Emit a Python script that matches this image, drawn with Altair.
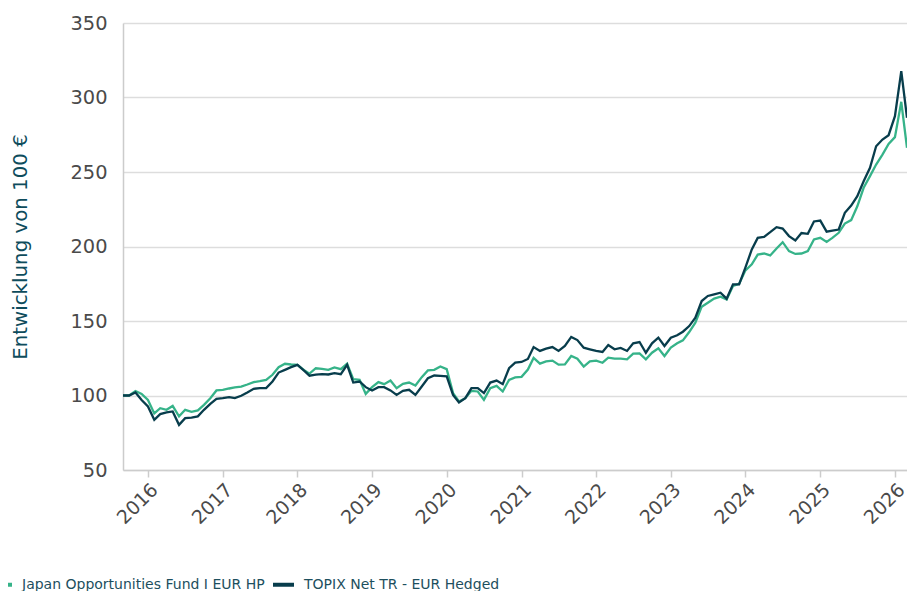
import altair as alt
import pandas as pd

series_names = ["Japan Opportunities Fund I EUR HP", "TOPIX Net TR - EUR Hedged"]
colors = ["#36b389", "#083d4c"]

start_month = "2015-09-01"

fund = [100, 100, 103, 101, 97, 88, 91.5, 90.4, 93, 86, 90.4, 89, 90, 93.7, 98.2, 103.4,
        103.8, 104.7, 105.4, 106, 107.4, 109, 109.6, 110.5, 113.9, 119, 121.3, 120.8, 120.6, 117.2,
        114.7, 118.3, 117.9, 117.2, 118.8, 117.7, 121.3, 111, 110.5, 101.1, 105.6, 109, 107.6, 110,
        104.9, 107.8, 108.7, 106.7, 112.3, 116.8, 117.2, 119.5, 117.7, 101.6, 96, 98.2, 103.1, 102.7,
        97.1, 104.9, 106.5, 102.7, 110.5, 112.1, 112.5, 117.4, 125.2, 121.4, 122.9, 123.4, 120.7,
        120.9, 126.5, 124.7, 119.4, 122.9, 123.4, 122, 125.4, 124.7, 124.7, 124.3, 128.1, 128.3,
        124.3, 128.7, 131.7, 126.5, 132.1, 135, 137, 142.6, 148.9, 159.6, 162.3, 165, 166.3, 164.5,
        173.5, 175, 184, 188, 194.6, 195.3, 194, 198.7, 202.9, 196.9, 195, 195.3, 196.9, 204.7,
        205.8, 203.1, 205.8, 209.2, 215.4, 217.7, 227, 239.4, 247.2, 255, 261.7, 268.9, 273.4,
        297.1, 266.2]

topix = [100, 100, 102, 97, 92.6, 83.7, 87.5, 88.6, 89.3, 80.3, 84.8, 85.2, 86, 90.4, 94.4, 97.8,
         98.2, 98.9, 98.2, 99.8, 102, 104.5, 105, 105, 109.4, 115.4, 117.2, 119, 120.6, 116.8,
         113.3, 114, 114.3, 114.1, 115, 114.3, 120.6, 108.7, 109.4, 105.6, 103.4, 105.6, 105.6, 103.4,
         100.4, 103.1, 103.8, 100.4, 106, 111.6, 113.4, 113.2, 112.8, 100.4, 95.3, 98.2, 104.9, 104.9,
         101.6, 108.7, 110, 107.6, 118.3, 122.1, 122.5, 124.5, 132.5, 129.9, 131.4, 132.5, 129.9,
         133.2, 139.3, 137.2, 132.1, 131, 129.9, 129.2, 133.9, 131, 131.9, 129.9, 135, 135.9,
         128.7, 135, 138.8, 133.2, 138.8, 140.4, 142.8, 146.6, 152.2, 163.4, 166.8, 167.9, 169, 165,
         174.6, 174.6, 186, 198, 205.8, 206.5, 209.6, 213, 212, 207, 204, 209, 208.5, 216.8,
         217.4, 210, 210.7, 211.4, 222.6, 227.5, 233.8, 243.8, 252.8, 267.3, 271.8, 274.7, 287.5,
         317.7, 286.4]

year_ticks = [f"{y}-01-01" for y in range(2016, 2027)]
y_ticks = [50, 100, 150, 200, 250, 300, 350]

dates = pd.date_range(start_month, periods=len(fund), freq="MS")
df = pd.concat([
    pd.DataFrame({"Datum": dates, "Wert": fund, "Serie": series_names[0]}),
    pd.DataFrame({"Datum": dates, "Wert": topix, "Serie": series_names[1]}),
])

FONT = "DejaVu Sans"

chart = alt.Chart(df).mark_line(strokeWidth=2.3, clip=True).encode(
    x=alt.X("Datum:T",
            scale=alt.Scale(domain=[dates[0].isoformat(), dates[-1].isoformat()], nice=False),
            axis=alt.Axis(values=year_ticks, format="%Y", labelAngle=-45, grid=False,
                          title=None, tickSize=7, labelPadding=3,
                          labelFontSize=19, labelColor="#4a4a4a",
                          domainColor="#cccccc", domainWidth=1.5,
                          tickColor="#cccccc", tickWidth=1.5)),
    y=alt.Y("Wert:Q",
            scale=alt.Scale(domain=[50, 350], nice=False, zero=False),
            axis=alt.Axis(values=y_ticks, title="Entwicklung von 100 €", ticks=False,
                          labelPadding=16, labelFontSize=19.4, labelColor="#4a4a4a",
                          titleFontSize=19.8, titleColor="#0e4c5c", titleFontWeight="normal",
                          titlePadding=39,
                          grid=True, gridColor="#dddddd", gridWidth=1.5,
                          domainColor="#cccccc", domainWidth=1.5)),
    color=alt.Color("Serie:N",
                    scale=alt.Scale(domain=series_names, range=colors),
                    legend=alt.Legend(title=None, orient="none", direction="horizontal",
                                      legendX=-134, legendY=549,
                                      symbolType="stroke", symbolSize=441,
                                      symbolStrokeWidth=4, labelFontSize=14,
                                      labelLimit=600,
                                      labelColor="#1d4f5e", labelOffset=8,
                                      columnPadding=0)),
).properties(
    width=784,
    height=447,
    autosize=alt.AutoSizeParams(type="none"),
    padding={"left": 115, "top": 15, "right": 0, "bottom": 121},
).configure(
    font=FONT,
).configure_view(
    stroke=None,
)

chart.save("out.html", embed_options={"renderer": "svg", "actions": False})
